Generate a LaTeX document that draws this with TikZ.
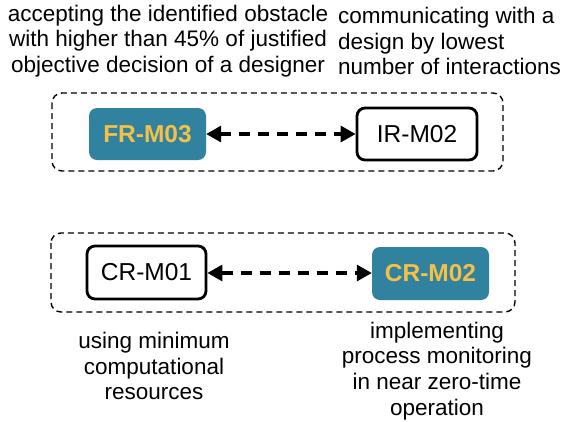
\documentclass[tikz,border=0pt]{standalone}
\usepackage{fontspec}
\setmainfont{Liberation Sans}
\usetikzlibrary{arrows.meta}
\definecolor{teal1}{HTML}{31829F}
\definecolor{gold1}{HTML}{F4C046}
\begin{document}
\begin{tikzpicture}[x=1pt,y=-1pt,
  txt/.style={font=\fontsize{22.5}{25.8}\selectfont, inner sep=0pt},
  grp/.style={draw, line width=1.4pt, rounded corners=10pt, dash pattern=on 6pt off 4pt},
  filled/.style={fill=teal1, text=gold1, rounded corners=8pt, font=\fontsize{24.5}{28}\selectfont\bfseries, inner sep=0pt},
  plain/.style={draw, line width=2.8pt, rounded corners=8pt, font=\fontsize{24.5}{28}\selectfont, inner sep=0pt},
  link/.style={line width=3.2pt, dash pattern=on 11pt off 8pt, {Triangle[length=15pt,width=16pt]}-{Triangle[length=15pt,width=16pt]}}
]
\useasboundingbox (0,0) rectangle (572,421);
\draw[grp] (52,93) rectangle (503,171);
\draw[grp] (51,233) rectangle (515,312);
\node[filled, minimum width=117pt, minimum height=52pt] (fr) at (147.5,134) {FR-M03};
\node[plain, minimum width=120pt, minimum height=52pt] (ir) at (417,134) {IR-M02};
\node[plain, minimum width=119pt, minimum height=53pt] (cr1) at (146.5,272.5) {CR-M01};
\node[filled, minimum width=117pt, minimum height=53pt] (cr2) at (430.5,273.5) {CR-M02};
\draw[link] (fr.east) -- (ir.west);
\draw[link] (cr1.east |- 0,273) -- (cr2.west |- 0,273);
\node[txt, align=center] (t1) at (168,41) {accepting the identified obstacle\\with higher than 45\% of justified\\objective decision of a designer};
\node[txt, align=left, anchor=west] (t2) at (338,41) {communicating with a\\design by lowest\\number of interactions};
\node[txt, align=center] (t3) at (154,366) {using minimum\\computational\\resources};
\node[txt, align=center] (t4) at (437,371) {implementing\\process monitoring\\in near zero-time\\operation};
\end{tikzpicture}
\end{document}
